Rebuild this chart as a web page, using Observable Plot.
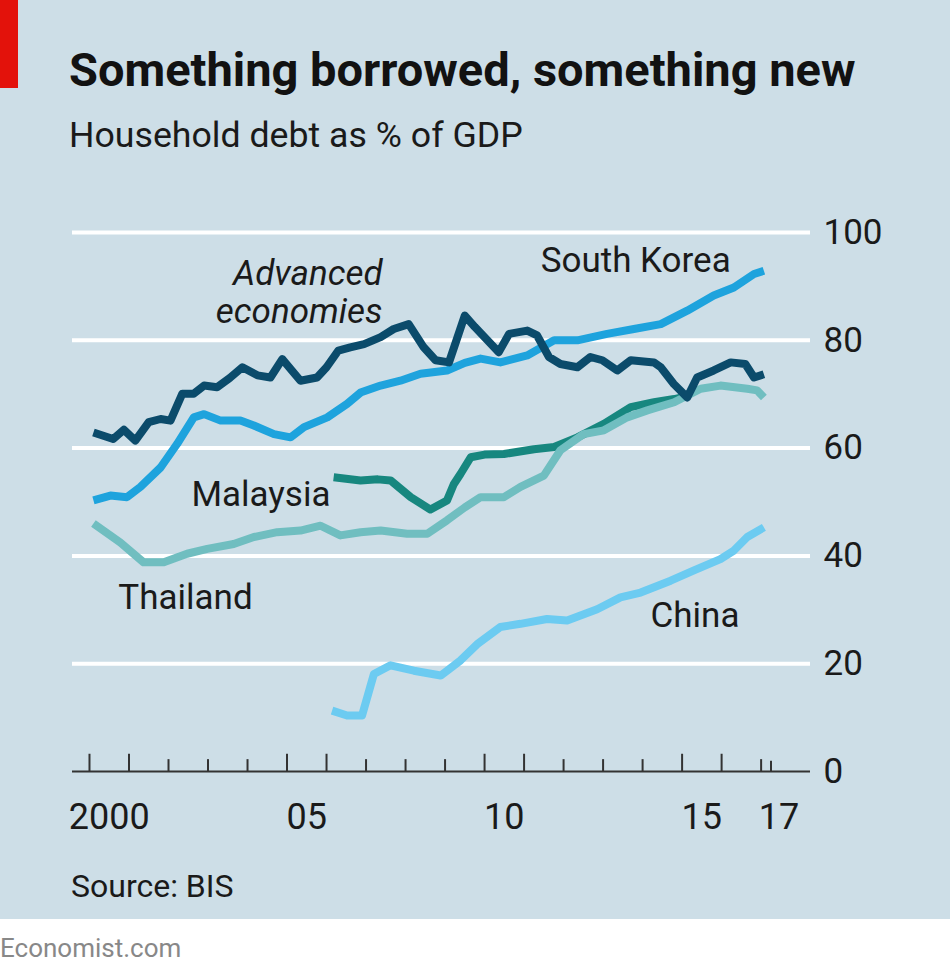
<!DOCTYPE html>
<html><head><meta charset="utf-8">
<script src="https://cdn.jsdelivr.net/npm/d3@7"></script>
<script src="https://cdn.jsdelivr.net/npm/@observablehq/plot@0.6"></script>
<style>
html,body{margin:0;padding:0;width:950px;height:976px;overflow:hidden;background:#fff;font-family:Roboto,sans-serif;}
#panel{position:absolute;left:0;top:0;width:950px;height:919px;background:#cddee7;}
#redbar{position:absolute;left:0;top:0;width:18px;height:88px;background:#e3120b;}
.t{position:absolute;white-space:nowrap;line-height:1;}
#title{left:69px;top:46px;font-size:47px;font-weight:700;color:#121212;}
#subtitle{left:69px;top:118px;font-size:35.7px;color:#1a1a1a;}
#chart{position:absolute;left:0;top:190px;}
#source{left:71px;top:870px;font-size:32px;color:#1a1a1a;}
#brand{position:absolute;left:0;top:935px;font-size:26px;color:#888;line-height:1;white-space:nowrap;}
</style></head>
<body>
<div id="panel">
  <div id="redbar"></div>
  <div class="t" id="title">Something borrowed, something new</div>
  <div class="t" id="subtitle">Household debt as % of GDP</div>
  <div id="chart"></div>
  <div class="t" id="source">Source: BIS</div>
</div>
<div id="brand">Economist.com</div>
<script>
// ---- Data: [decimal year, household debt % of GDP] ----
const advanced = [
  [2000.1,62.9],[2000.6,61.7],[2000.87,63.4],[2001.16,61.4],[2001.5,64.8],[2001.8,65.4],
  [2002.05,65.1],[2002.35,70.1],[2002.64,70.1],[2002.9,71.6],[2003.23,71.3],[2003.55,73.0],
  [2003.87,75.0],[2004.25,73.5],[2004.58,73.1],[2004.88,76.5],[2005.34,72.5],[2005.76,73.1],
  [2006.0,75.0],[2006.3,78.1],[2006.6,78.7],[2006.95,79.3],[2007.37,80.6],[2007.7,82.1],
  [2008.08,83.0],[2008.46,78.7],[2008.76,76.3],[2009.1,75.9],[2009.5,84.6],[2009.75,82.5],
  [2010.36,77.8],[2010.62,81.2],[2011.08,81.8],[2011.33,80.9],[2011.63,76.9],[2011.92,75.6],
  [2012.35,75.0],[2012.68,76.9],[2012.98,76.3],[2013.36,74.4],[2013.7,76.3],[2014.29,75.9],
  [2014.46,75.0],[2014.79,71.9],[2015.13,69.4],[2015.38,73.1],[2015.8,74.4],[2016.23,75.9],
  [2016.6,75.6],[2016.82,73.1],[2017.07,73.7]
];
const southKorea = [
  [2000.1,50.3],[2000.53,51.2],[2000.95,50.9],[2001.29,52.8],[2001.8,56.4],[2002.22,60.8],
  [2002.64,65.7],[2002.9,66.3],[2003.32,65.1],[2003.82,65.1],[2004.16,64.2],[2004.67,62.6],
  [2005.09,62.0],[2005.43,63.9],[2006.02,65.7],[2006.52,68.2],[2006.86,70.3],[2007.37,71.6],
  [2007.87,72.5],[2008.38,73.8],[2009.05,74.4],[2009.5,75.8],[2009.9,76.6],[2010.4,75.9],
  [2011.08,77.2],[2011.76,80.0],[2012.35,80.0],[2013.1,81.2],[2013.78,82.1],[2014.46,83.0],
  [2015.13,85.5],[2015.8,88.3],[2016.31,89.8],[2016.82,92.3],[2017.07,92.9]
];
const malaysia = [
  [2006.18,54.6],[2006.86,54.0],[2007.3,54.2],[2007.62,54.0],[2008.13,50.9],[2008.63,48.6],
  [2009.05,50.3],[2009.22,53.3],[2009.39,55.2],[2009.65,58.3],[2010.0,58.8],[2010.49,58.9],
  [2011.25,59.8],[2011.76,60.2],[2012.35,62.0],[2013.02,64.5],[2013.7,67.6],[2014.29,68.5],
  [2014.8,69.1],[2015.05,69.5]
];
const thailand = [
  [2000.1,46.0],[2000.78,42.5],[2001.37,38.8],[2001.88,38.8],[2002.47,40.4],[2002.98,41.3],
  [2003.65,42.2],[2004.16,43.5],[2004.75,44.4],[2005.34,44.7],[2005.85,45.6],[2006.35,43.8],
  [2006.86,44.4],[2007.37,44.7],[2008.04,44.1],[2008.55,44.1],[2009.05,46.6],[2009.5,49.0],
  [2009.9,50.9],[2010.49,50.9],[2010.91,52.8],[2011.5,54.9],[2011.92,59.6],[2012.51,62.6],
  [2013.02,63.3],[2013.61,65.7],[2014.12,67.0],[2014.8,68.5],[2015.47,71.0],[2015.97,71.6],
  [2016.65,71.0],[2016.9,70.7],[2017.07,69.4]
];
const china = [
  [2006.14,11.3],[2006.52,10.4],[2006.9,10.4],[2007.2,18.1],[2007.62,19.7],[2008.21,18.7],
  [2008.89,17.8],[2009.39,20.6],[2009.81,23.6],[2010.4,26.8],[2010.91,27.4],[2011.58,28.3],
  [2012.09,28.0],[2012.85,30.1],[2013.44,32.3],[2013.95,33.2],[2014.71,35.4],[2015.3,37.3],
  [2015.97,39.4],[2016.31,41.0],[2016.65,43.5],[2017.07,45.3]
];
const yTicks = [0, 20, 40, 60, 80, 100];
const gridValues = [20, 40, 60, 80, 100];
const yearTicks = d3.range(2000, 2018);
const majorYears = [2000, 2001, 2005, 2006, 2010, 2011, 2015, 2016];
const endTick = [2017.25];
const xTickLabels = ["2000", "05", "10", "15", "17"];
const xTickLabelYears = [2000.5, 2005.5, 2010.5, 2015.5, 2017.45];

// ---- Styling ----
const colors = {
  advanced: "#0b4b6b", southKorea: "#1ea3dd", malaysia: "#17877f",
  thailand: "#70bec0", china: "#6ccbf1"
};
const ink = "#1a1a1a";
const lw = 8;
const lineOpts = (c) => ({x: d => d[0], y: d => d[1], stroke: c, strokeWidth: lw,
  strokeLinejoin: "round", strokeLinecap: "butt"});

const chart = Plot.plot({
  width: 950, height: 680,
  marginLeft: 72, marginRight: 140, marginTop: 42, marginBottom: 99,
  x: {domain: [1999.57, 2018.25], axis: null},
  y: {domain: [0, 100]},
  style: {background: "transparent", fontFamily: "Roboto, sans-serif", fontSize: "35px", color: ink, overflow: "visible"},
  marks: [
    Plot.gridY(gridValues, {stroke: "#ffffff", strokeOpacity: 1, strokeWidth: 4}),
    Plot.axisY(yTicks, {anchor: "right", tickSize: 0, tickPadding: 13, fontSize: 35, label: null, fill: ink}),
    Plot.ruleY([0], {stroke: "#333", strokeWidth: 2}),
    Plot.ruleX(yearTicks, {x: d => d, y1: 0, y2: d => majorYears.includes(d) ? 3.2 : 2.2, stroke: "#333", strokeWidth: 2}),
    Plot.ruleX(endTick, {x: d => d, y1: 0, y2: 1.9, stroke: "#333", strokeWidth: 2}),
    Plot.text(xTickLabels, {x: (d, i) => xTickLabelYears[i], y: 0, dy: 46, text: d => d, fontSize: 36, fill: ink, textAnchor: "middle"}),
    Plot.line(malaysia, lineOpts(colors.malaysia)),
    Plot.line(thailand, lineOpts(colors.thailand)),
    Plot.line(china, lineOpts(colors.china)),
    Plot.line(southKorea, lineOpts(colors.southKorea)),
    Plot.line(advanced, lineOpts(colors.advanced)),
    Plot.text(["Advanced\neconomies"], {x: 2007.42, y: 83.3, text: d => d, textAnchor: "end", lineAnchor: "bottom",
      fontStyle: "italic", fontSize: 35, lineHeight: 1.08, fill: ink}),
    Plot.text(["South Korea"], {x: 2011.42, y: 92.6, text: d => d, textAnchor: "start", lineAnchor: "bottom", fontSize: 35, fill: ink}),
    Plot.text(["Malaysia"], {x: 2002.58, y: 49.3, text: d => d, textAnchor: "start", lineAnchor: "bottom", fontSize: 35, fill: ink}),
    Plot.text(["Thailand"], {x: 2000.73, y: 30.2, text: d => d, textAnchor: "start", lineAnchor: "bottom", fontSize: 35, fill: ink}),
    Plot.text(["China"], {x: 2014.2, y: 26.9, text: d => d, textAnchor: "start", lineAnchor: "bottom", fontSize: 35, fill: ink})
  ]
});
document.getElementById("chart").appendChild(chart);
</script>
</body></html>
